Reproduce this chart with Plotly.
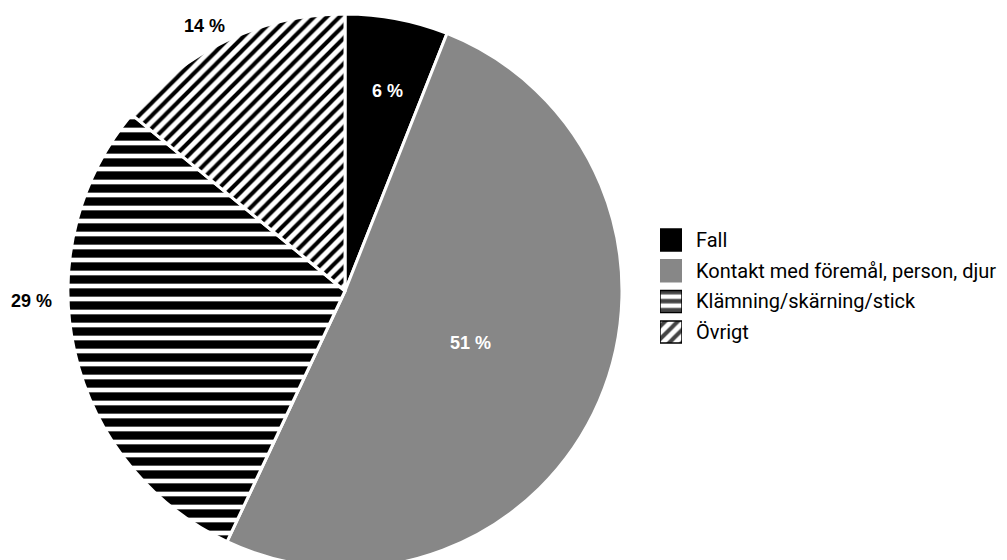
import math
import plotly.graph_objects as go

# Olycksorsaker, andel i procent
categories = ["Fall", "Kontakt med föremål, person, djur", "Klämning/skärning/stick", "Övrigt"]
shares = [6, 51, 29, 14]

fill_colors = ["#000000", "#878787", "#ffffff", "#ffffff"]
patterns = ["", "", "-", "/"]
pattern_size = [10, 10, 13, 9]
pattern_solidity = [0.5, 0.5, 0.64, 0.45]

W, H = 1007, 576
cx, cy, R = 345, 291, 277  # pie centre and radius in px

fig = go.Figure()
fig.add_trace(go.Pie(
    labels=categories,
    values=shares,
    sort=False,
    direction="clockwise",
    rotation=0,
    textinfo="none",
    hoverinfo="label+percent",
    showlegend=False,
    domain=dict(x=[(cx - R) / W, (cx + R) / W], y=[1 - (cy + R) / H, 1 - (cy - R) / H]),
    marker=dict(
        colors=fill_colors,
        line=dict(color="#ffffff", width=3),
        pattern=dict(
            shape=patterns,
            fgcolor="#000000",
            fgopacity=1,
            size=pattern_size,
            solidity=pattern_solidity,
            fillmode="overlay",
        ),
    ),
))

# percentage labels: (radius factor, angle shift in degrees, text colour)
label_style = [
    (0.738, 1.1, "#ffffff"),
    (0.489, -0.8, "#ffffff"),
    (1.131, 10.8, "#000000"),
    (1.084, -2.8, "#000000"),
]
start = 0.0
total = sum(shares)
for val, (rf, shift, col) in zip(shares, label_style):
    mid = (start + val / 2) / total * 360 + shift
    start += val
    px = cx + rf * R * math.sin(math.radians(mid))
    py = cy - rf * R * math.cos(math.radians(mid))
    fig.add_annotation(
        x=px / W, y=1 - py / H, xref="paper", yref="paper",
        xanchor="center", yanchor="middle",
        text=f"<b>{val} %</b>", showarrow=False,
        font=dict(size=18, color=col, family="Liberation Sans, Arial, sans-serif"),
    )

# legend: one patterned swatch per category, names as right-hand tick labels
row_h = 30.7
sw = 22
top = 240 - row_h / 2
fig.add_trace(go.Bar(
    x=[1] * len(categories),
    y=categories,
    orientation="h",
    width=sw / row_h,
    xaxis="x2", yaxis="y2",
    hoverinfo="y",
    showlegend=False,
    marker=dict(
        color=fill_colors,
        line=dict(color=["#000000", "#878787", "#000000", "#000000"], width=1.5),
        pattern=dict(
            shape=patterns,
            fgcolor="#000000",
            fgopacity=1,
            size=[10, 10, 9, 9],
            solidity=[0.5, 0.5, 0.5, 0.45],
            fillmode="overlay",
        ),
    ),
))

fig.update_layout(
    width=W, height=H,
    margin=dict(l=0, r=0, t=0, b=0),
    paper_bgcolor="#ffffff",
    plot_bgcolor="#ffffff",
    showlegend=False,
    xaxis2=dict(
        domain=[660 / W, (660 + sw) / W], range=[0, 1],
        visible=False, fixedrange=True, anchor="y2",
    ),
    yaxis2=dict(
        domain=[1 - (top + 4 * row_h) / H, 1 - top / H],
        range=[3.5, -0.5], anchor="x2", side="right",
        showgrid=False, zeroline=False, showline=False, ticks="",
        ticklabelstandoff=13,
        tickfont=dict(size=20, color="#000000", family="Roboto, Arial, sans-serif"),
        fixedrange=True,
    ),
)

fig.write_html("out.html")
